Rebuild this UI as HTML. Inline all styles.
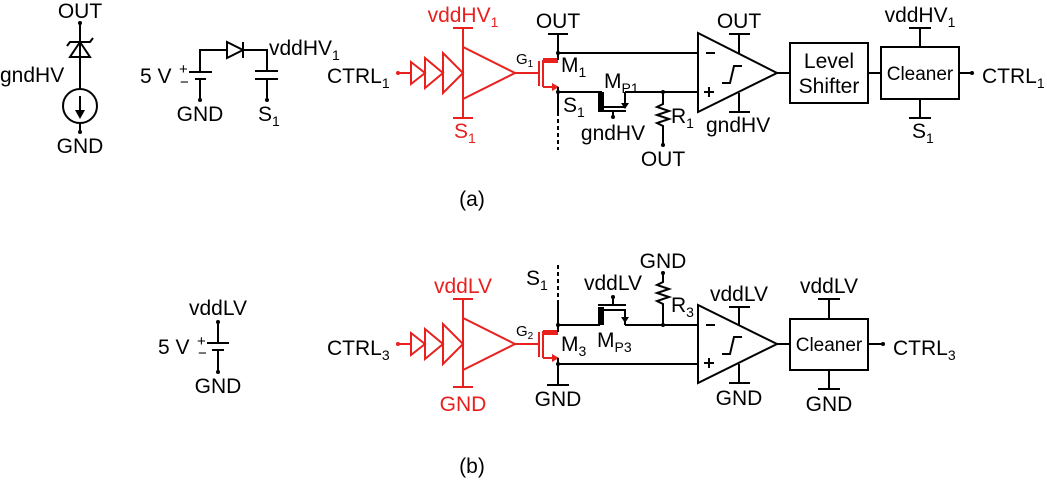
<!DOCTYPE html>
<html><head><meta charset="utf-8"><style>
html,body{margin:0;padding:0;background:#fff;}
svg{display:block;font-family:"Liberation Sans",sans-serif;font-size:21px;}
.k{stroke:#000;stroke-width:2;fill:none}
.r{stroke:#e8201e;stroke-width:2;fill:none}
.rt{fill:#e8201e}
tspan.s{font-size:14px}
</style></head><body>
<svg width="1047" height="481" viewBox="0 0 1047 481" xmlns="http://www.w3.org/2000/svg">
<!-- Zener + current source -->
<text x="80" y="18" text-anchor="middle">OUT</text>
<circle cx="80" cy="23" r="2"/>
<path class="k" d="M80 23V89M80 123V132"/>
<path class="k" d="M70 57H90L80 42Z"/>
<path class="k" d="M67 46L70 42H90L93 38"/>
<text x="0" y="82">gndHV</text>
<circle class="k" cx="80" cy="106" r="17"/>
<path class="k" d="M80 96V116"/><path d="M75 110H85L80 119Z"/>
<circle cx="80" cy="132" r="2"/>
<text x="80" y="153" text-anchor="middle">GND</text>
<!-- battery + diode -->
<text x="140" y="83">5 V</text><text x="179" y="74" font-size="15">+</text><text x="180" y="87" font-size="15">−</text>
<path class="k" d="M200 72V50H227M243 50H267V71M189 72H212M195 79H206M200 79V100"/>
<path class="k" d="M227 42V58L243 50Z M243 42V58"/>
<path class="k" d="M255 71H278M255 79H278M267 79V100"/>
<circle cx="200" cy="100" r="2"/><circle cx="267" cy="100" r="2"/>
<text x="200" y="121" text-anchor="middle">GND</text>
<text x="258" y="121">S<tspan class="s" dy="5">1</tspan></text>
<text x="269" y="55">vddHV<tspan class="s" dy="5">1</tspan></text>

<!-- (a) red driver -->
<text x="327" y="83">CTRL<tspan class="s" dy="5">1</tspan></text>
<circle cx="398" cy="73" r="2" fill="#e8201e"/>
<path class="r" d="M398 73H411M411 62V84L425 73ZM425 58V88L443 73ZM443 53V93L463 73ZM463 47V99L515 73ZM463 28V118M453 28H473M453 118H473M515 73H539M539 61V86M543 60V87"/>
<path d="M543 58H558V63H543Z" fill="#e8201e"/>
<path class="r" d="M543 87H558"/><path d="M552 83L559 87L552 91Z" fill="#e8201e"/>
<text class="rt" x="463" y="22" text-anchor="middle">vddHV<tspan class="s" dy="5">1</tspan></text>
<text class="rt" x="454" y="138">S<tspan class="s" dy="5">1</tspan></text>
<text x="516" y="64" font-size="15">G<tspan font-size="10" dy="3">1</tspan></text>
<path class="k" d="M558 34V60M548 34H568M558 53H698M558 87V112"/>
<path class="k" d="M558 92H602M625 92H698"/>
<path class="k" d="M558 112V150" stroke-dasharray="4,3"/>
<circle cx="558" cy="53" r="2"/><circle cx="558" cy="92" r="2"/>
<text x="558" y="28" text-anchor="middle">OUT</text>
<text x="561" y="72">M<tspan class="s" dy="5">1</tspan></text>
<text x="563" y="112">S<tspan class="s" dy="5">1</tspan></text>
<!-- MP1 -->
<path d="M598 92H604V110H598Z"/>
<path class="k" d="M604 107H625V92M598 111H626M613 111V117"/>
<path d="M621 103H629L625 109Z"/>
<circle cx="613" cy="117" r="2"/>
<text x="613" y="140" text-anchor="middle">gndHV</text>
<text x="604" y="88">M<tspan class="s" dy="5">P1</tspan></text>
<!-- R1 -->
<path class="k" d="M663 92V104L657 107L669 111L657 115L669 119L657 123L663 126V145"/>
<circle cx="663" cy="92" r="2"/><circle cx="663" cy="145" r="2"/>
<text x="663" y="166" text-anchor="middle">OUT</text>
<text x="671" y="123">R<tspan class="s" dy="5">1</tspan></text>
<!-- comparator a -->
<path class="k" d="M698 33V112L777 73Z M739 34V53M729 34H750M739 93V112M729 112H750"/>
<path class="k" d="M706 53H715M704 92H714M709 87V97M722 83H730L734 66H742"/>
<text x="739" y="28" text-anchor="middle">OUT</text>
<text x="706" y="132">gndHV</text>
<path class="k" d="M777 73H790"/>
<rect class="k" x="790" y="43" width="78" height="60"/>
<text x="829" y="68" text-anchor="middle">Level</text>
<text x="829" y="93" text-anchor="middle">Shifter</text>
<path class="k" d="M868 73H881"/>
<rect class="k" x="881" y="47" width="78" height="52"/>
<text x="920" y="80" text-anchor="middle" font-size="19">Cleaner</text>
<path class="k" d="M920 28V47M909 28H931M920 99V118M909 118H931M959 73H972"/>
<circle cx="972" cy="73" r="2"/>
<text x="920" y="22" text-anchor="middle">vddHV<tspan class="s" dy="5">1</tspan></text>
<text x="912" y="138">S<tspan class="s" dy="5">1</tspan></text>
<text x="982" y="83">CTRL<tspan class="s" dy="5">1</tspan></text>
<text x="472" y="206" text-anchor="middle">(a)</text>

<!-- (b) battery -->
<text x="189" y="315">vddLV</text>
<circle cx="218" cy="322" r="2"/>
<path class="k" d="M218 322V343M207 343H229M212 350H224M218 350V372"/>
<circle cx="218" cy="372" r="2"/>
<text x="218" y="393" text-anchor="middle">GND</text>
<text x="158" y="354">5 V</text><text x="197" y="346" font-size="15">+</text><text x="198" y="358" font-size="15">−</text>

<!-- (b) red driver -->
<text x="327" y="355">CTRL<tspan class="s" dy="5">3</tspan></text>
<circle cx="398" cy="344" r="2" fill="#e8201e"/>
<path class="r" d="M398 344H411M411 333V355L425 344ZM425 329V359L443 344ZM443 324V364L463 344ZM463 318V370L515 344ZM463 299V387M453 299H473M453 387H473M515 344H539M539 332V357M543 331V358"/>
<path d="M543 330H558V335H543Z" fill="#e8201e"/>
<path class="r" d="M543 358H558"/><path d="M552 354L559 358L552 362Z" fill="#e8201e"/>
<text class="rt" x="463" y="293" text-anchor="middle">vddLV</text>
<text class="rt" x="463" y="411" text-anchor="middle">GND</text>
<text x="516" y="336" font-size="15">G<tspan font-size="10" dy="3">2</tspan></text>
<path class="k" d="M558 265V300" stroke-dasharray="4,3"/>
<path class="k" d="M558 300V332M558 325H600M625 325H698M558 358V385M547 385H569M558 364H698"/>
<circle cx="558" cy="325" r="2"/><circle cx="558" cy="364" r="2"/>
<text x="526" y="285">S<tspan class="s" dy="5">1</tspan></text>
<text x="561" y="351">M<tspan class="s" dy="5">3</tspan></text>
<text x="558" y="406" text-anchor="middle">GND</text>
<!-- MP3 -->
<path d="M598 307H604V325H598Z"/>
<path class="k" d="M604 310H625V325M598 305H626M613 305V297"/>
<path d="M621 317H629L625 323Z"/>
<circle cx="613" cy="297" r="2"/>
<text x="613" y="290" text-anchor="middle">vddLV</text>
<text x="597" y="347">M<tspan class="s" dy="5">P3</tspan></text>
<!-- R3 -->
<path class="k" d="M663 273V282L657 285L669 289L657 293L669 297L657 301L663 304V325"/>
<circle cx="663" cy="273" r="2"/><circle cx="663" cy="325" r="2"/>
<text x="663" y="268" text-anchor="middle">GND</text>
<text x="671" y="312">R<tspan class="s" dy="5">3</tspan></text>
<!-- comparator b -->
<path class="k" d="M698 305V383L777 344Z M739 307V325M729 307H750M739 364V383M729 383H750"/>
<path class="k" d="M706 325H715M704 363H714M709 358V368M722 354H730L734 337H742"/>
<text x="739" y="301" text-anchor="middle">vddLV</text>
<text x="739" y="405" text-anchor="middle">GND</text>
<path class="k" d="M777 344H790"/>
<rect class="k" x="790" y="319" width="78" height="51"/>
<text x="829" y="351" text-anchor="middle" font-size="19">Cleaner</text>
<path class="k" d="M829 299V319M818 299H840M829 370V389M818 389H840M868 344H883"/>
<circle cx="883" cy="344" r="2"/>
<text x="829" y="293" text-anchor="middle">vddLV</text>
<text x="829" y="411" text-anchor="middle">GND</text>
<text x="893" y="355">CTRL<tspan class="s" dy="5">3</tspan></text>
<text x="472" y="473" text-anchor="middle">(b)</text>
</svg>
</body></html>
